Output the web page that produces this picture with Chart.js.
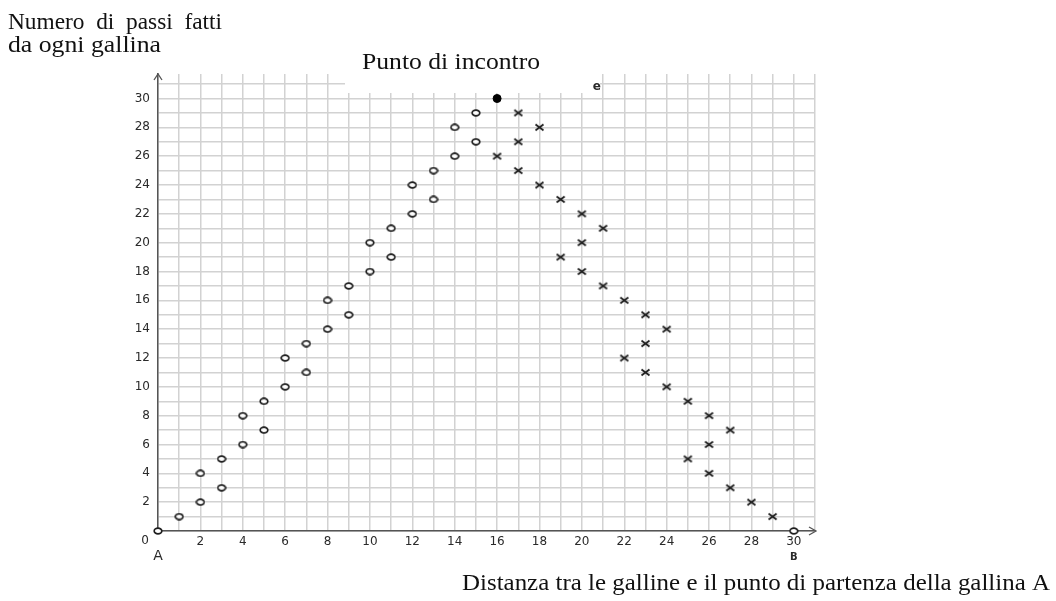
<!DOCTYPE html>
<html>
<head>
<meta charset="utf-8">
<script src="https://cdn.jsdelivr.net/npm/chart.js@4.4.1/dist/chart.umd.min.js"></script>
<style>
  html, body { margin: 0; padding: 0; background: #fff; }
  canvas { display: block; }
</style>
</head>
<body>
<canvas id="grafico" width="1056" height="601"></canvas>
<script>
// passi della gallina A (cerchi)
const passiA_x = [0, 1, 2, 2, 3, 3, 4, 4, 5, 5, 6, 6, 7, 7, 8, 8, 9, 9, 10, 10, 11, 11, 12, 12, 13, 13, 14, 14, 15, 15];
const passiA_y = [0, 1, 2, 4, 3, 5, 6, 8, 7, 9, 10, 12, 11, 13, 14, 16, 15, 17, 18, 20, 19, 21, 22, 24, 23, 25, 26, 28, 27, 29];

// passi della gallina B (croci)
const passiB_x = [29, 28, 27, 27, 26, 26, 26, 25, 25, 24, 24, 23, 23, 23, 22, 22, 21, 21, 20, 20, 20, 19, 19, 18, 18, 17, 17, 17, 16];
const passiB_y = [1, 2, 3, 7, 4, 6, 8, 5, 9, 10, 14, 11, 13, 15, 12, 16, 17, 21, 18, 20, 22, 19, 23, 24, 28, 25, 27, 29, 26];

// partenza della gallina B e punto di incontro
const partenzaB = [30, 0];
const incontro = [16, 30];

// etichette degli assi
const etichetteX = [2, 4, 6, 8, 10, 12, 14, 16, 18, 20, 22, 24, 26, 28, 30];
const etichetteY = [2, 4, 6, 8, 10, 12, 14, 16, 18, 20, 22, 24, 26, 28, 30];

const titoloY = ['Numero  di  passi  fatti', 'da ogni gallina'];
const titoloPunto = 'Punto di incontro';
const titoloX = 'Distanza tra le galline e il punto di partenza della gallina A';

const inchiostro = '#1e1e1e';

function marker(w, h, draw) {
    const c = document.createElement('canvas');
    c.width = w;
    c.height = h;
    draw(c.getContext('2d'), w, h);
    return c;
}

const cerchio = marker(10, 8, (g, w, h) => {
    g.strokeStyle = inchiostro;
    g.fillStyle = '#fff';
    g.lineWidth = 1.7;
    g.beginPath();
    g.ellipse(w / 2, h / 2, w / 2 - 1.2, h / 2 - 1.2, 0, 0, Math.PI * 2);
    g.fill();
    g.stroke();
});

const croce = marker(11, 9, (g, w, h) => {
    g.strokeStyle = inchiostro;
    g.lineWidth = 1.8;
    g.beginPath();
    g.moveTo(1.5, 1.5);
    g.lineTo(w - 1.5, h - 1.5);
    g.moveTo(w - 1.5, 1.5);
    g.lineTo(1.5, h - 1.5);
    g.stroke();
});

function punti(xs, ys) {
    return xs.map((x, i) => ({x: x, y: ys[i]}));
}

// testo serif leggermente allargato, come nella figura originale
function testo(ctx, str, x, y, larghezza, align) {
    const w = ctx.measureText(str).width;
    const f = larghezza / w;
    ctx.save();
    ctx.translate(align === 'right' ? x - larghezza : x, y);
    ctx.scale(f, 1);
    ctx.textAlign = 'left';
    ctx.fillText(str, 0, 0);
    ctx.restore();
}

// frecce, etichette e testi intorno al grafico
const decorazioni = {
    id: 'decorazioni',
    beforeDatasetsDraw(chart) {
        const ctx = chart.ctx;
        // riquadro bianco dietro "Punto di incontro"
        ctx.save();
        ctx.fillStyle = '#fff';
        ctx.fillRect(345, 40, 255, 53);
        ctx.restore();
    },
    afterDraw(chart) {
        const ctx = chart.ctx;
        const a = chart.chartArea;
        const sx = chart.scales.x;
        const sy = chart.scales.y;
        ctx.save();

        // frecce degli assi
        ctx.strokeStyle = '#555';
        ctx.lineWidth = 1.3;
        ctx.beginPath();
        ctx.moveTo(a.left - 4, a.top + 6);
        ctx.lineTo(a.left, a.top);
        ctx.lineTo(a.left + 4, a.top + 6);
        ctx.moveTo(a.right - 6, a.bottom - 4);
        ctx.lineTo(a.right + 1, a.bottom);
        ctx.lineTo(a.right - 6, a.bottom + 4);
        ctx.stroke();

        // origine, A, B, e
        ctx.fillStyle = '#2a2a2a';
        ctx.textAlign = 'center';
        ctx.textBaseline = 'middle';
        ctx.font = '12px "DejaVu Sans"';
        ctx.fillText('0', a.left - 13, a.bottom + 10);
        ctx.font = '14px "DejaVu Sans"';
        ctx.fillText('A', sx.getPixelForValue(0), a.bottom + 25);
        ctx.font = 'bold 10px "DejaVu Sans"';
        ctx.fillText('B', sx.getPixelForValue(partenzaB[0]), a.bottom + 26);
        ctx.font = 'bold 12px "DejaVu Sans"';
        ctx.fillText('e', sx.getPixelForValue(20.7), sy.getPixelForValue(30.8));

        // testi in serif
        ctx.fillStyle = '#111';
        ctx.font = '23px "Liberation Serif"';
        ctx.textBaseline = 'alphabetic';
        testo(ctx, titoloY[0], 8, 29, 214, 'left');
        testo(ctx, titoloY[1], 8, 52, 153, 'left');
        testo(ctx, titoloPunto, 362, 69, 178, 'left');
        testo(ctx, titoloX, 1050, 590, 588, 'right');
        ctx.restore();
    }
};

const tickFont = {family: 'DejaVu Sans', size: 12};

new Chart(document.getElementById('grafico'), {
    type: 'scatter',
    data: {
        datasets: [
            {label: 'Gallina A', data: punti(passiA_x, passiA_y), pointStyle: cerchio, clip: false},
            {label: 'Gallina B', data: punti(passiB_x, passiB_y), pointStyle: croce, clip: false},
            {label: 'Partenza B', data: [{x: partenzaB[0], y: partenzaB[1]}], pointStyle: cerchio, clip: false},
            {
                label: 'Punto di incontro',
                data: [{x: incontro[0], y: incontro[1]}],
                pointStyle: 'circle',
                pointRadius: 4,
                backgroundColor: '#000',
                borderColor: '#000',
                clip: false
            }
        ]
    },
    options: {
        responsive: false,
        animation: false,
        layout: {padding: {top: 74, right: 241, left: 0, bottom: 0}},
        plugins: {
            legend: {display: false},
            tooltip: {enabled: false}
        },
        scales: {
            x: {
                type: 'linear',
                min: 0,
                max: 31,
                afterFit: (s) => { s.height = 70; },
                grid: {color: '#d2d2d2', lineWidth: 1.5, drawTicks: false},
                border: {color: '#555', width: 1.5},
                ticks: {
                    stepSize: 1,
                    autoSkip: false,
                    includeBounds: false,
                    maxRotation: 0,
                    padding: 4,
                    color: '#2a2a2a',
                    font: tickFont,
                    callback: (v) => etichetteX.includes(v) ? String(v) : ''
                }
            },
            y: {
                min: 0,
                max: 31.7,
                afterFit: (s) => { s.width = 158; },
                grid: {color: '#d2d2d2', lineWidth: 1.5, drawTicks: false},
                border: {color: '#555', width: 1.5},
                ticks: {
                    stepSize: 1,
                    autoSkip: false,
                    includeBounds: false,
                    padding: 8,
                    color: '#2a2a2a',
                    font: tickFont,
                    callback: (v) => etichetteY.includes(v) ? String(v) : ''
                }
            }
        }
    },
    plugins: [decorazioni]
});
</script>
</body>
</html>
